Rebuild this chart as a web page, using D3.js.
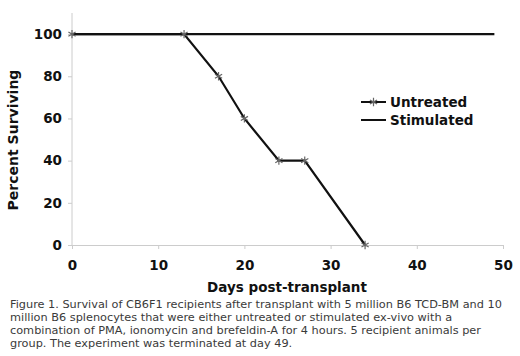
<!doctype html>
<html>
<head>
    <script src="https://d3js.org/d3.v7.min.js"></script>
    <style>
        body { margin: 0; background: #fff; }
        text { font-family: "DejaVu Sans", Verdana, sans-serif; }
    </style>
</head>
<body>
    <script>
        // survival data
        let untreatedDays = [0, 13, 17, 20, 24, 27, 34];
        let untreatedPct = [100, 100, 80, 60, 40, 40, 0];
        let stimulatedDays = [0, 49];
        let stimulatedPct = [100, 100];
        let xTicks = [0, 10, 20, 30, 40, 50];
        let yTicks = [0, 20, 40, 60, 80, 100];
        let seriesNames = ["Untreated", "Stimulated"];
        let caption = [
            "Figure 1. Survival of CB6F1 recipients after transplant with 5 million B6 TCD-BM and 10",
            "million B6 splenocytes that were either untreated or stimulated ex-vivo with a",
            "combination of PMA, ionomycin and brefeldin-A for 4 hours. 5 recipient animals per",
            "group. The experiment was terminated at day 49."
        ];

        let untreated = untreatedDays.map(function(d, i){ return {x: d, y: untreatedPct[i]}; });
        let stimulated = stimulatedDays.map(function(d, i){ return {x: d, y: stimulatedPct[i]}; });

        let svg = d3.select("body").append("svg")
                    .attr("width", 520).attr("height", 356);

        let x = d3.scaleLinear().domain([0, 50]).range([72, 503]);
        let y = d3.scaleLinear().domain([0, 110]).range([245, 13]);

        // axes
        let xAxis = svg.append("g").attr("transform", "translate(0," + y(0) + ")")
            .call(d3.axisBottom(x).tickValues(xTicks).tickSize(4).tickPadding(11));
        let yAxis = svg.append("g").attr("transform", "translate(" + x(0) + ",0)")
            .call(d3.axisLeft(y).tickValues(yTicks).tickSize(4).tickPadding(6));
        [xAxis, yAxis].forEach(function(a){
            a.select(".domain").attr("stroke", "#ccc").attr("stroke-width", 1);
            a.selectAll(".tick line").attr("stroke", "#ccc");
            a.selectAll(".tick text").attr("fill", "#111")
                .style("font-size", "13.5px").style("font-weight", "bold");
        });
        // y axis runs a bit above 100
        yAxis.select(".domain").attr("d", "M0," + y(110) + "V" + y(0));

        let line = d3.line().x(function(d){ return x(d.x); }).y(function(d){ return y(d.y); });

        svg.append("path").datum(stimulated)
            .attr("d", line).attr("fill", "none")
            .attr("stroke", "#111").attr("stroke-width", 2.2);
        svg.append("path").datum(untreated)
            .attr("d", line).attr("fill", "none")
            .attr("stroke", "#111").attr("stroke-width", 2.2);

        let star = d3.symbol().type(d3.symbolAsterisk).size(48);
        svg.selectAll(".pt").data(untreated).enter().append("path")
            .attr("class", "pt")
            .attr("d", star)
            .attr("transform", function(d){ return "translate(" + x(d.x) + "," + y(d.y) + ")"; })
            .attr("fill", "none").attr("stroke", "#666").attr("stroke-width", 1.2);

        // legend
        let legend = svg.append("g").selectAll("g").data(seriesNames).enter().append("g")
            .attr("transform", function(d, i){ return "translate(361," + (102 + i * 18) + ")"; });
        legend.append("line").attr("x1", 0).attr("x2", 25)
            .attr("stroke", "#111").attr("stroke-width", 2);
        legend.filter(function(d, i){ return i === 0; }).append("path")
            .attr("d", star).attr("transform", "translate(12.5,0)")
            .attr("fill", "none").attr("stroke", "#666").attr("stroke-width", 1.2);
        legend.append("text").attr("x", 29).attr("y", 5)
            .style("font-size", "13.5px").style("font-weight", "bold").attr("fill", "#111")
            .text(function(d){ return d; });

        // axis titles
        svg.append("text").attr("x", 287).attr("y", 292).attr("text-anchor", "middle")
            .style("font-size", "13.5px").style("font-weight", "bold").attr("fill", "#111")
            .text("Days post-transplant");
        svg.append("text").attr("transform", "translate(18,140) rotate(-90)")
            .attr("text-anchor", "middle")
            .style("font-size", "14px").style("font-weight", "bold").attr("fill", "#111")
            .text("Percent Surviving");

        // caption
        svg.append("g").selectAll("text").data(caption).enter().append("text")
            .attr("x", 10).attr("y", function(d, i){ return 308 + i * 13; })
            .style("font-size", "11.3px").attr("fill", "#3a3a3a")
            .text(function(d){ return d; });
    </script>
</body>
</html>
